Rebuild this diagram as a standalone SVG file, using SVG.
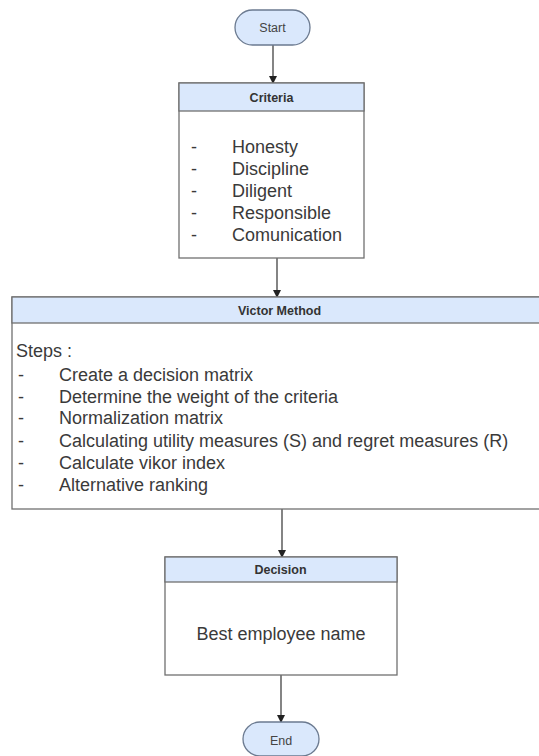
<svg xmlns="http://www.w3.org/2000/svg" width="539" height="756" viewBox="0 0 539 756">
<style>
.term{fill:#dae8fc;stroke:#6b7a90;stroke-width:1.3}
.box{fill:#ffffff;stroke:#707070;stroke-width:1.3}
.hdr{fill:#dae8fc;stroke:#707070;stroke-width:1.3}
.ht{font-family:"Liberation Sans",Arial,sans-serif;font-size:12.5px;font-weight:bold;fill:#333;text-anchor:middle}
.tt{font-family:"Liberation Sans",Arial,sans-serif;font-size:12.5px;fill:#444;text-anchor:middle}
.bt{font-family:"Liberation Sans",Arial,sans-serif;font-size:18px;fill:#3a3a3a}
.conn{stroke:#333;stroke-width:1.2;fill:none;marker-end:url(#arr)}
</style>
<defs>
<marker id="arr" markerWidth="8" markerHeight="8" refX="7" refY="4" orient="auto" markerUnits="userSpaceOnUse">
<path d="M0,0 L8,4 L0,8 Z" fill="#222"/>
</marker>
</defs>
<rect width="539" height="756" fill="#ffffff"/>
<g id="connectors">
<line class="conn" x1="273" y1="45" x2="273" y2="83"/>
<line class="conn" x1="277" y1="258" x2="277" y2="297"/>
<line class="conn" x1="282" y1="509" x2="282" y2="557"/>
<line class="conn" x1="281" y1="675" x2="281" y2="722"/>
</g>
<g id="start">
<rect class="term" x="235" y="10" width="75" height="35" rx="17.5"/>
<text class="tt" x="272.5" y="31.5">Start</text>
</g>
<g id="criteria">
<rect class="box" x="179" y="83" width="185" height="175"/>
<rect class="hdr" x="179" y="83" width="185" height="28"/>
<text class="ht" x="271.5" y="102">Criteria</text>
<g class="bt">
<text x="191" y="153">-</text><text x="232" y="153">Honesty</text>
<text x="191" y="175">-</text><text x="232" y="175">Discipline</text>
<text x="191" y="197">-</text><text x="232" y="197">Diligent</text>
<text x="191" y="219">-</text><text x="232" y="219">Responsible</text>
<text x="191" y="241">-</text><text x="232" y="241">Comunication</text>
</g>
</g>
<g id="victor">
<rect class="box" x="12" y="297" width="536" height="212"/>
<rect class="hdr" x="12" y="297" width="536" height="26"/>
<text class="ht" x="279.5" y="314.5">Victor Method</text>
<g class="bt">
<text x="16" y="357">Steps :</text>
<text x="18" y="381">-</text><text x="59" y="381">Create a decision matrix</text>
<text x="18" y="403">-</text><text x="59" y="403">Determine the weight of the criteria</text>
<text x="18" y="424">-</text><text x="59" y="424">Normalization matrix</text>
<text x="18" y="447">-</text><text x="59" y="447">Calculating utility measures (S) and regret measures (R)</text>
<text x="18" y="469">-</text><text x="59" y="469">Calculate vikor index</text>
<text x="18" y="491">-</text><text x="59" y="491">Alternative ranking</text>
</g>
</g>
<g id="decision">
<rect class="box" x="165" y="557" width="232" height="118"/>
<rect class="hdr" x="165" y="557" width="232" height="25"/>
<text class="ht" x="280.5" y="574">Decision</text>
<text class="bt" x="281" y="640" text-anchor="middle">Best employee name</text>
</g>
<g id="end">
<rect class="term" x="243" y="722" width="76" height="34" rx="17"/>
<text class="tt" x="281" y="745">End</text>
</g>
</svg>
